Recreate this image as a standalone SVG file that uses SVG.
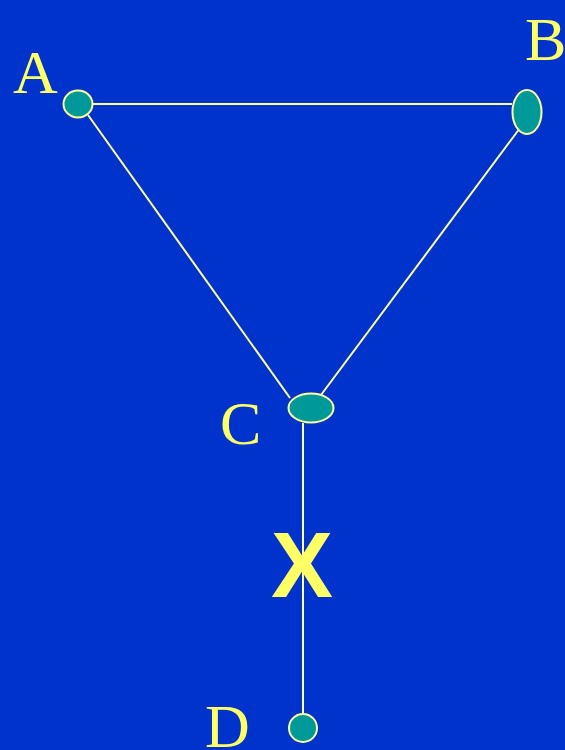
<svg xmlns="http://www.w3.org/2000/svg" width="565" height="750" viewBox="0 0 565 750">
<style>
.edge{stroke:#ffff99;stroke-width:2;fill:none}
.node{fill:#009999;stroke:#ffff99;stroke-width:2}
.lbl{font-family:"Liberation Serif","Times New Roman",serif;font-size:62px;fill:#ffff66}
.x{font-family:"Liberation Sans",Arial,sans-serif;font-weight:bold;font-size:93px;fill:#ffff66}
</style>
<rect width="565" height="750" fill="#0033cc"/>
<g id="connectors">
<line class="edge" x1="93" y1="104" x2="512" y2="104"/>
<line class="edge" x1="88" y1="115" x2="290" y2="398"/>
<line class="edge" x1="520" y1="128" x2="321" y2="395"/>
<line class="edge" x1="303" y1="423" x2="303" y2="714"/>
</g>
<g id="node-A"><ellipse class="node" cx="78" cy="104" rx="14.5" ry="13.5"/><text class="lbl" x="13" y="93">A</text></g>
<g id="node-B"><ellipse class="node" cx="527" cy="112" rx="14.5" ry="22"/><text class="lbl" x="525" y="60">B</text></g>
<g id="node-C"><ellipse class="node" cx="311" cy="408" rx="22.5" ry="14.5"/><text class="lbl" x="220" y="444">C</text></g>
<g id="node-D"><ellipse class="node" cx="303" cy="728" rx="14" ry="14"/><text class="lbl" x="205" y="747">D</text></g>
<text class="x" x="302" y="597" text-anchor="middle">X</text>
</svg>
